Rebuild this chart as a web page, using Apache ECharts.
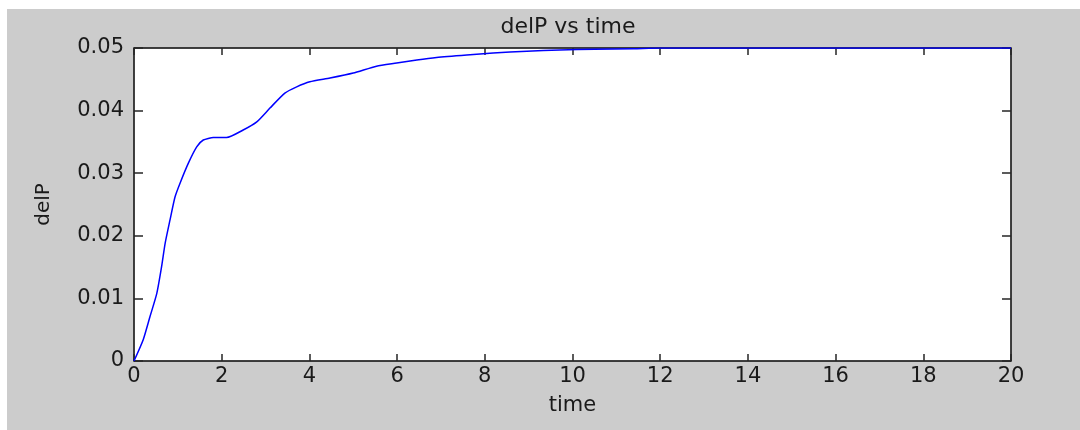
<!DOCTYPE html>
<html>
<head>
<meta charset="utf-8">
<script src="https://cdn.jsdelivr.net/npm/echarts@6/dist/echarts.min.js"></script>
<style>
html,body{margin:0;padding:0;background:#fff;}
#bg{position:absolute;left:7px;top:9px;width:1073px;height:421px;background:#cccccc;}
#chart{position:absolute;left:0;top:0;width:1080px;height:430px;}
</style>
</head>
<body>
<div id="bg"></div>
<div id="chart"></div>
<script>
const timeValues = [0, 0.21, 0.365, 0.52, 0.63, 0.71, 0.82, 0.935, 1.05, 1.24, 1.43, 1.58, 1.81, 2.11, 2.49, 2.8, 3.1, 3.44, 3.71, 4.01, 4.47, 5.0, 5.53, 5.99, 6.45, 6.9, 7.59, 8.19, 8.96, 9.71, 10.5, 11.4, 12, 14, 16, 18, 20];
const delPValues = [0, 0.0034, 0.0071, 0.0108, 0.0151, 0.0188, 0.0225, 0.0262, 0.0284, 0.0316, 0.0342, 0.0353, 0.0357, 0.0357, 0.0369, 0.0382, 0.0404, 0.0428, 0.0438, 0.0446, 0.0452, 0.0460, 0.0471, 0.0476, 0.0481, 0.0485, 0.0489, 0.0492, 0.0495, 0.0497, 0.0498, 0.0499, 0.05, 0.05, 0.05, 0.05, 0.05];
const xTicks = [0, 2, 4, 6, 8, 10, 12, 14, 16, 18, 20];
const yTicks = [0, 0.01, 0.02, 0.03, 0.04, 0.05];
const titleText = 'delP vs time';
const xName = 'time';
const yName = 'delP';

const points = timeValues.map((t, i) => [t, delPValues[i]]);
const chart = echarts.init(document.getElementById('chart'), null, {renderer: 'canvas'});
const font = 'DejaVu Sans, sans-serif';
const axisColor = '#262626';
const txt = '#1a1a1a';
chart.setOption({
  backgroundColor: 'transparent',
  animation: false,
  title: {
    text: titleText, left: 563, top: 11, textAlign: 'center',
    textStyle: {fontFamily: font, fontSize: 22, fontWeight: 'normal', color: txt}
  },
  grid: {left: 134, top: 48, width: 877, height: 313, show: true, backgroundColor: '#ffffff', borderColor: axisColor, borderWidth: 1, containLabel: false},
  xAxis: [{
    type: 'value', min: xTicks[0], max: xTicks[xTicks.length - 1], interval: 2,
    name: xName, nameLocation: 'middle', nameGap: 34,
    nameTextStyle: {fontFamily: font, fontSize: 21, color: txt},
    axisLine: {show: true, onZero: false, lineStyle: {color: axisColor, width: 1.5}},
    axisTick: {show: true, inside: true, length: 7, lineStyle: {color: axisColor, width: 1.5}},
    axisLabel: {fontFamily: font, fontSize: 21, color: txt, margin: 5},
    splitLine: {show: false}
  }, {
    type: 'value', position: 'top', min: xTicks[0], max: xTicks[xTicks.length - 1], interval: 2,
    axisLine: {show: true, onZero: false, lineStyle: {color: axisColor, width: 1.5}},
    axisTick: {show: true, inside: true, length: 7, lineStyle: {color: axisColor, width: 1.5}},
    axisLabel: {show: false}, splitLine: {show: false}
  }],
  yAxis: [{
    type: 'value', min: yTicks[0], max: yTicks[yTicks.length - 1], interval: 0.01,
    name: yName, nameLocation: 'middle', nameGap: 80, nameRotate: 90,
    nameTextStyle: {fontFamily: font, fontSize: 20, color: txt},
    axisLine: {show: true, onZero: false, lineStyle: {color: axisColor, width: 1.5}},
    axisTick: {show: true, inside: true, length: 9, lineStyle: {color: axisColor, width: 1.5}},
    axisLabel: {fontFamily: font, fontSize: 21, color: txt, margin: 10, formatter: v => String(+v.toFixed(2))},
    splitLine: {show: false}
  }, {
    type: 'value', position: 'right', min: yTicks[0], max: yTicks[yTicks.length - 1], interval: 0.01,
    axisLine: {show: true, onZero: false, lineStyle: {color: axisColor, width: 1.5}},
    axisTick: {show: true, inside: true, length: 9, lineStyle: {color: axisColor, width: 1.5}},
    axisLabel: {show: false}, splitLine: {show: false}
  }],
  series: [{
    type: 'line', data: points, xAxisIndex: 0, yAxisIndex: 0,
    showSymbol: false, smooth: 0.2,
    lineStyle: {color: '#0000ff', width: 1.5}, z: 1
  }]
});
</script>
</body>
</html>
